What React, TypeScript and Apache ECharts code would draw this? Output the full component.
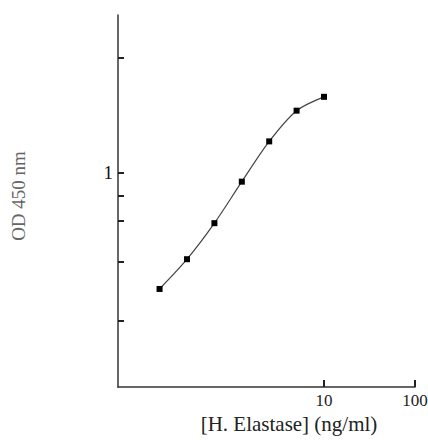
import React, { useEffect, useRef } from "react";
import * as echarts from "echarts";

// Concentrations of the standards (ng/ml) and their OD 450 nm readings
const concentrations = [0.156, 0.3125, 0.625, 1.25, 2.5, 5, 10];
const odValues = [0.58, 0.667, 0.79, 0.96, 1.16, 1.34, 1.43];

// Axis ranges (log-scaled axes)
const xRange = [0.0545, 100];
const yRange = [0.366, 2.1];

// Tick marks and labels
const xTickValues = [10, 100];
const xLabelValues = [10, 100];
const yTickValues = [0.5, 0.66, 0.8, 0.9, 1, 1.72];
const yLabelValues = [1];

const xAxisTitle = "[H. Elastase] (ng/ml)";
const yAxisTitle = "OD 450 nm";

const lg = (v: number) => Math.log10(v);
const fmt = (v: number) => String(Math.round(Math.pow(10, v) * 1000) / 1000);

export default function App() {
  const ref = useRef<HTMLDivElement>(null);

  useEffect(() => {
    if (!ref.current) return;
    const chart = echarts.init(ref.current, null, { renderer: "svg" });
    const serif = '"Liberation Serif", "Times New Roman", serif';
    chart.setOption({
      animation: false,
      backgroundColor: "#ffffff",
      grid: { left: 118, right: 13, top: 15, bottom: 54, containLabel: false, outerBoundsMode: "none" },
      xAxis: {
        type: "value",
        min: lg(xRange[0]),
        max: lg(xRange[1]),
        splitLine: { show: false },
        axisLine: { show: true, onZero: false, lineStyle: { color: "#333", width: 1.5 } },
        axisTick: {
          show: true,
          inside: true,
          length: 7,
          customValues: xTickValues.map(lg),
          lineStyle: { color: "#222", width: 2 },
        },
        axisLabel: {
          customValues: xLabelValues.map(lg),
          formatter: fmt,
          color: "#222",
          fontFamily: serif,
          fontSize: 17,
          margin: 5,
        },
      },
      yAxis: {
        type: "value",
        min: lg(yRange[0]),
        max: lg(yRange[1]),
        splitLine: { show: false },
        axisLine: { show: true, onZero: false, lineStyle: { color: "#333", width: 1.5 } },
        axisTick: {
          show: true,
          inside: true,
          length: 6,
          customValues: yTickValues.map(lg),
          lineStyle: { color: "#222", width: 2 },
        },
        axisLabel: {
          customValues: yLabelValues.map(lg),
          formatter: fmt,
          color: "#111",
          fontFamily: serif,
          fontSize: 19,
          margin: 5,
        },
      },
      series: [
        {
          type: "line",
          data: concentrations.map((c, i) => [lg(c), lg(odValues[i])]),
          smooth: 0.3,
          symbol: "rect",
          symbolSize: 6,
          itemStyle: { color: "#000" },
          lineStyle: { color: "#444", width: 1.2 },
        },
      ],
      graphic: [
        {
          type: "text",
          x: 289,
          y: 424,
          style: {
            text: xAxisTitle,
            font: "21px " + serif,
            fill: "#222",
            align: "center",
            verticalAlign: "middle",
          },
        },
        {
          type: "text",
          x: 18,
          y: 196,
          rotation: Math.PI / 2,
          style: {
            text: yAxisTitle,
            font: "19px " + serif,
            fill: "#666",
            align: "center",
            verticalAlign: "middle",
          },
        },
      ],
    });
    return () => chart.dispose();
  }, []);

  return (
    <div
      ref={ref}
      style={{ position: "absolute", left: 0, top: 0, width: 428, height: 441 }}
    />
  );
}
